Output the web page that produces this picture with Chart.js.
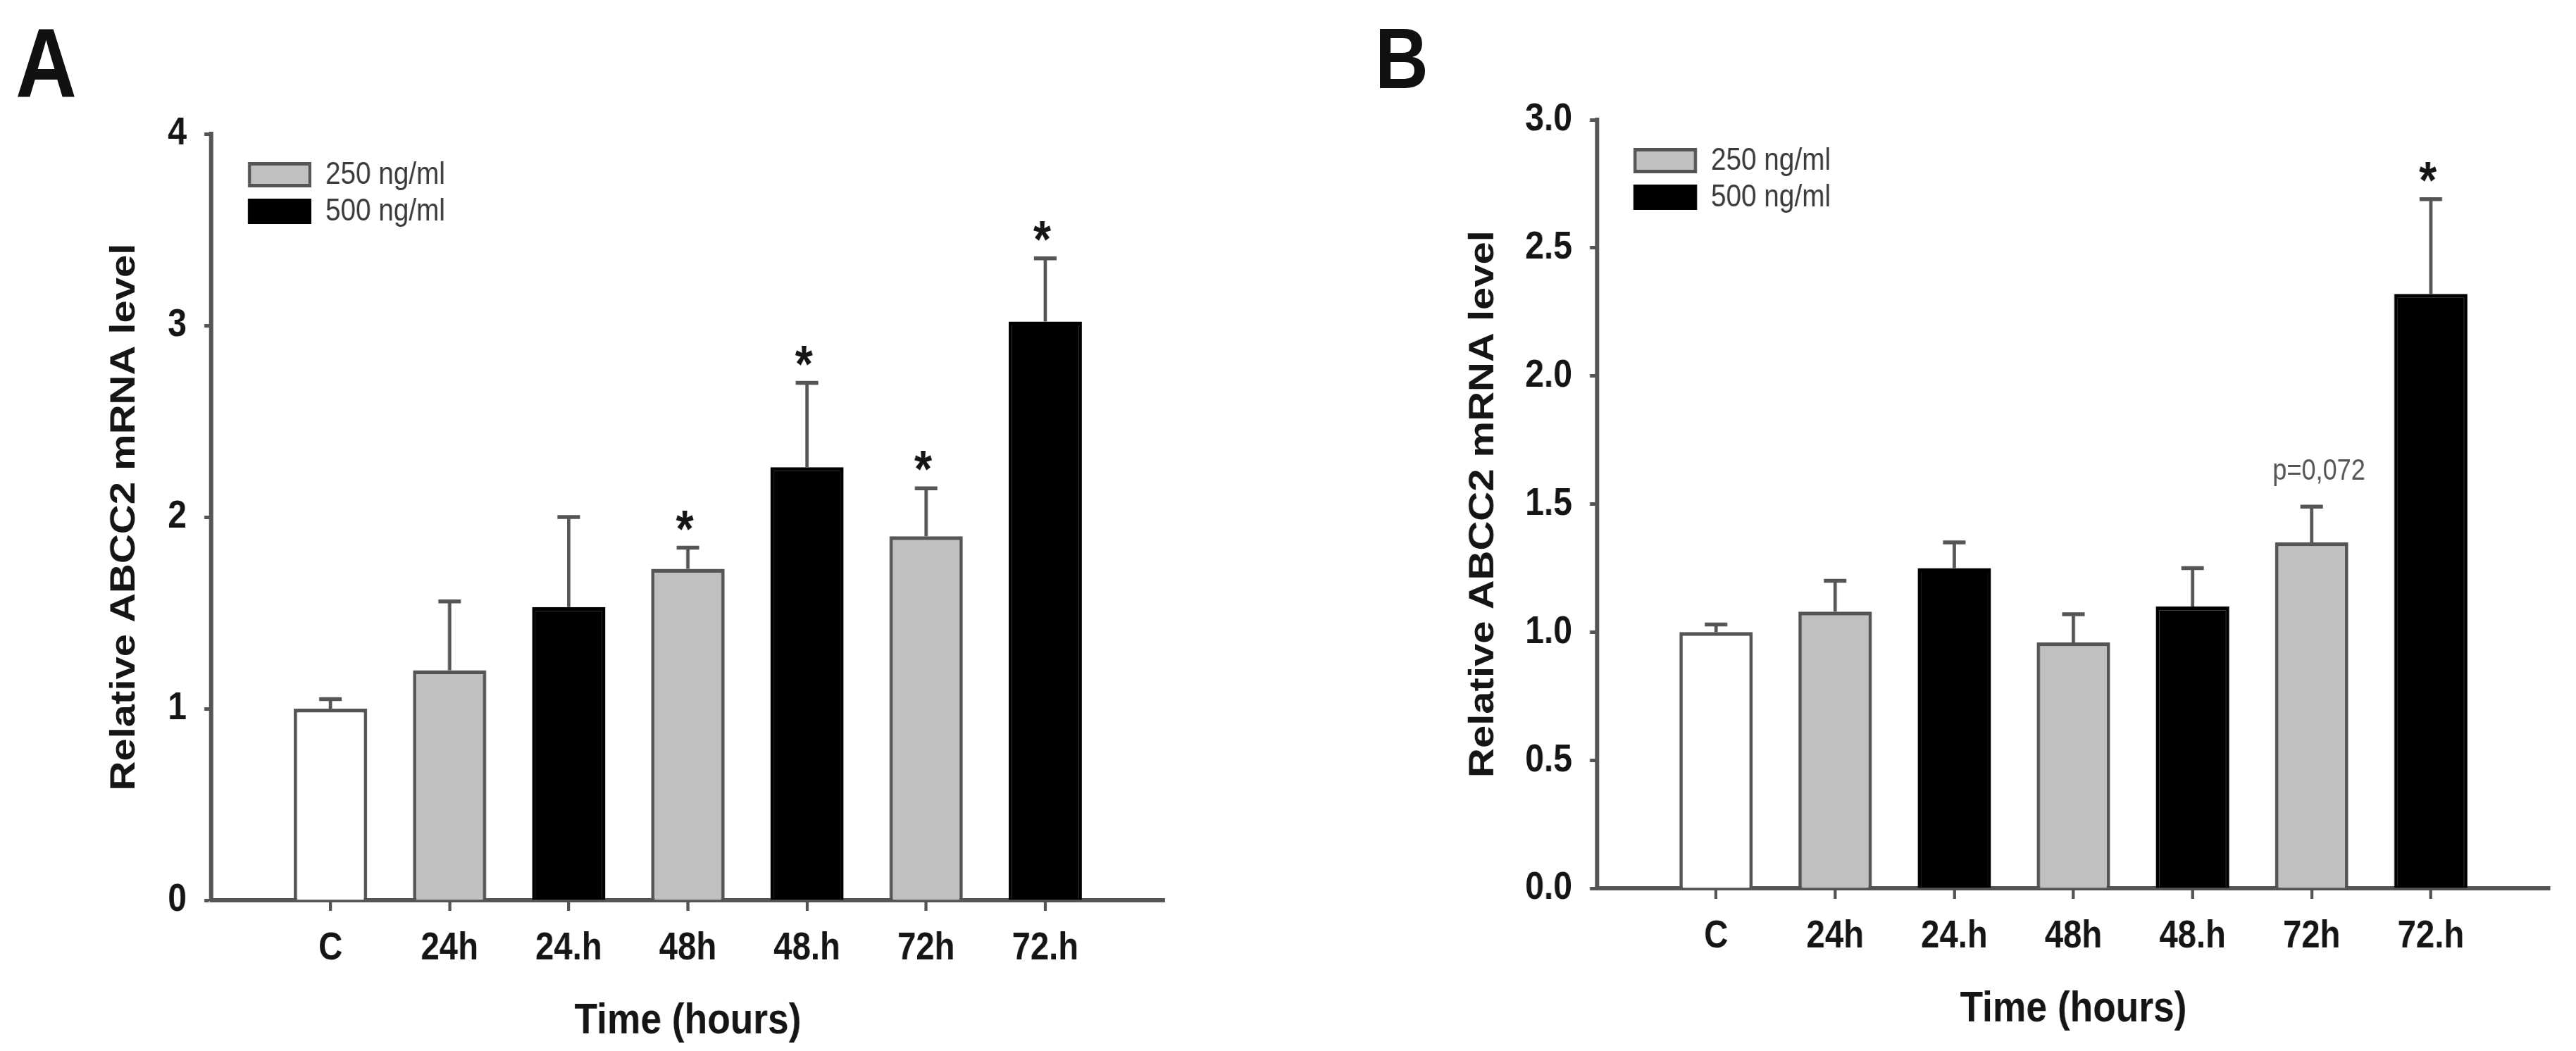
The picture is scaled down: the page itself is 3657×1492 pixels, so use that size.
<!DOCTYPE html>
<html>
<head>
<meta charset="utf-8">
<title>ABCC2 mRNA level</title>
<script src="https://cdn.jsdelivr.net/npm/chart.js@4.4.1/dist/chart.umd.min.js"></script>
<style>
    html, body { margin: 0; padding: 0; background: #fff; }
    body { width: 3657px; height: 1492px; position: relative; overflow: hidden; }
    /* the source figure is squeezed horizontally; reproduce that with scaleX */
    canvas, .panel-tag { position: absolute; top: 0; transform: scaleX(0.86); transform-origin: 0 0; }
    #chartA { left: 0; }
    #chartB { left: 1830px; }
    .panel-tag {
        font-family: 'Liberation Sans', Arial, sans-serif;
        font-weight: bold;
        color: #111;
        line-height: 1;
    }
</style>
</head>
<body>
<div class="panel-tag" style="left:22px; top:20px; font-size:140px;">A</div>
<div class="panel-tag" style="left:1952px; top:22px; font-size:122px;">B</div>
<canvas id="chartA" width="2128" height="1492"></canvas>
<canvas id="chartB" width="2124" height="1492"></canvas>
<script>
/* ───── data ───── */
const categories = ['C', '24h', '24.h', '48h', '48.h', '72h', '72.h'];
const doseGroup = ['control', '250', '500', '250', '500', '250', '500'];

// panel A
const meanA = [1.00, 1.20, 1.53, 1.73, 2.26, 1.90, 3.02];
const semA = [0.05, 0.36, 0.47, 0.11, 0.44, 0.25, 0.33];
const marksA = ['', '', '', '*', '*', '*', '*'];
const yTicksA = [0, 1, 2, 3, 4];
const yTickLabelsA = ['0', '1', '2', '3', '4'];

// panel B
const meanB = [1.00, 1.08, 1.25, 0.96, 1.10, 1.35, 2.32];
const semB = [0.03, 0.12, 0.10, 0.11, 0.15, 0.14, 0.37];
const marksB = ['', '', '', '', '', 'p=0,072', '*'];
const yTicksB = [0, 0.5, 1, 1.5, 2, 2.5, 3];
const yTickLabelsB = ['0.0', '0.5', '1.0', '1.5', '2.0', '2.5', '3.0'];

const legendGroups = ['250', '500'];
const legendLabels = ['250 ng/ml', '500 ng/ml'];

/* ───── style ───── */
const SX = 0.86; // horizontal squeeze applied by CSS, page px -> canvas px is / SX
const SANS = "'Liberation Sans', Arial, sans-serif";
const AXIS = '#555555';
const INK = '#151515';
const FILL = { control: '#ffffff', '250': '#c0c0c0', '500': '#000000' };
const EDGE = { control: '#555555', '250': '#555555', '500': '#000000' };

// upper error bars plus significance marks above them
const errorBars = {
    id: 'errorBars',
    afterDatasetsDraw(chart, args, opts) {
        const { ctx } = chart;
        const yScale = chart.scales.y;
        const meta = chart.getDatasetMeta(0);
        const values = chart.data.datasets[0].data;
        const halfCap = 16 / SX;
        ctx.save();
        ctx.strokeStyle = AXIS;
        ctx.lineWidth = 5.5;
        meta.data.forEach(function (bar, i) {
            const capY = yScale.getPixelForValue(values[i].y + opts.sem[i]);
            ctx.beginPath();
            ctx.moveTo(bar.x, bar.y);
            ctx.lineTo(bar.x, capY);
            ctx.moveTo(bar.x - halfCap, capY);
            ctx.lineTo(bar.x + halfCap, capY);
            ctx.stroke();

            const mark = opts.marks[i];
            if (!mark) return;
            ctx.textAlign = 'center';
            if (mark === '*') {
                ctx.font = 'bold 75px ' + SANS;
                ctx.fillStyle = INK;
                ctx.textBaseline = 'alphabetic';
                ctx.fillText(mark, bar.x - 5, capY - 2);
            } else {
                ctx.font = '42px ' + SANS;
                ctx.fillStyle = '#555';
                ctx.textBaseline = 'middle';
                ctx.fillText(mark, bar.x + 12, capY - 50);
            }
        });
        ctx.restore();
    }
};

// dose legend in the upper left of the plot area
const doseLegend = {
    id: 'doseLegend',
    afterDraw(chart) {
        const { ctx, chartArea } = chart;
        const w = 90 / SX;
        ctx.save();
        legendLabels.forEach(function (label, k) {
            const g = legendGroups[k];
            const bx = chartArea.left + 52 / SX;
            const by = chartArea.top + 40 + k * 52;
            ctx.fillStyle = FILL[g];
            ctx.fillRect(bx, by, w, 36);
            ctx.strokeStyle = EDGE[g];
            ctx.lineWidth = 5;
            ctx.strokeRect(bx + 2.5, by + 2.5, w - 5, 31);
            ctx.fillStyle = '#3a3a3a';
            ctx.font = '45px ' + SANS;
            ctx.textAlign = 'left';
            ctx.textBaseline = 'middle';
            ctx.fillText(label, bx + 110 / SX, by + 19);
        });
        ctx.restore();
    }
};

function buildPanel(canvasId, p) {
    const ctx = document.getElementById(canvasId).getContext('2d');
    return new Chart(ctx, {
        type: 'bar',
        data: {
            datasets: [{
                data: categories.map((c, i) => ({ x: i + 1, y: p.mean[i] })),
                backgroundColor: doseGroup.map(g => FILL[g]),
                borderColor: doseGroup.map(g => EDGE[g]),
                borderWidth: 5.5,
                borderSkipped: 'start',
                categoryPercentage: 1,
                barPercentage: 0.615
            }]
        },
        options: {
            responsive: false,
            devicePixelRatio: 1,
            animation: false,
            layout: { padding: { left: 0, top: p.top, right: p.right / SX, bottom: 0 } },
            plugins: {
                legend: { display: false },
                tooltip: { enabled: false },
                errorBars: { sem: p.sem, marks: p.marks }
            },
            scales: {
                x: {
                    type: 'linear',
                    offset: false,
                    min: 0,
                    max: categories.length + 1,
                    afterBuildTicks: s => { s.ticks = categories.map((c, i) => ({ value: i + 1 })); },
                    afterFit: s => { s.height = p.xAxisHeight; },
                    ticks: {
                        autoSkip: false,
                        maxRotation: 0,
                        padding: 21,
                        color: INK,
                        font: { family: SANS, weight: 'bold', size: 55 },
                        callback: v => categories[v - 1]
                    },
                    grid: { offset: false, drawOnChartArea: false, tickLength: 15, tickWidth: 5, tickColor: AXIS },
                    border: { color: AXIS, width: 6 },
                    title: {
                        display: true,
                        text: 'Time (hours)',
                        color: INK,
                        font: { family: SANS, weight: 'bold', size: 62 },
                        padding: { top: 0, bottom: p.xTitlePad }
                    }
                },
                y: {
                    min: 0,
                    max: p.yTicks[p.yTicks.length - 1],
                    afterBuildTicks: s => { s.ticks = p.yTicks.map(v => ({ value: v })); },
                    afterFit: s => { s.width = p.yAxisWidth / SX; },
                    ticks: {
                        padding: 29,
                        color: INK,
                        font: { family: SANS, weight: 'bold', size: 56 },
                        callback: (v, i) => p.yTickLabels[i]
                    },
                    grid: { drawOnChartArea: false, tickLength: 10 / SX, tickWidth: 5, tickColor: AXIS },
                    border: { color: AXIS, width: 6 / SX },
                    title: {
                        display: true,
                        text: 'Relative ABCC2 mRNA level',
                        color: INK,
                        font: { family: SANS, weight: 'bold', size: 58 },
                        padding: { top: p.yTitleCenter / SX - 34.8, bottom: 0 }
                    }
                }
            }
        },
        plugins: [errorBars, doseLegend]
    });
}

// layout numbers are page pixels relative to each canvas' left edge
buildPanel('chartA', {
    mean: meanA, sem: semA, marks: marksA,
    yTicks: yTicksA, yTickLabels: yTickLabelsA,
    top: 190, right: 2128 * SX - 1653, yAxisWidth: 300, xAxisHeight: 214,
    yTitleCenter: 177, xTitlePad: 5
});

buildPanel('chartB', {
    mean: meanB, sem: semB, marks: marksB,
    yTicks: yTicksB, yTickLabels: yTickLabelsB,
    top: 170, right: 2124 * SX - 1790, yAxisWidth: 437, xAxisHeight: 231,
    yTitleCenter: 276, xTitlePad: 22
});
</script>
</body>
</html>
